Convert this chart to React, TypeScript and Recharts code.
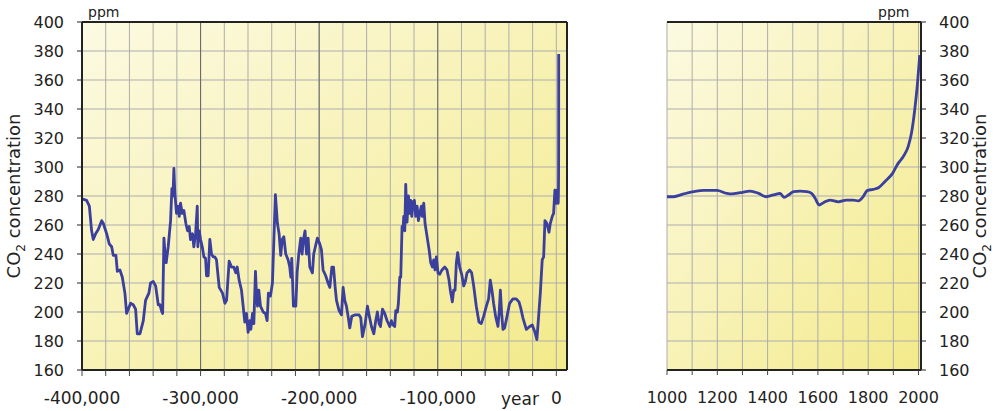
import { LineChart, Line, XAxis, YAxis, CartesianGrid, ReferenceLine } from 'recharts'

// Vostok-style ice core record, years relative to 0 AD
const iceYears = [
  -400000, -396100, -393800, -391900, -390500, -388500, -386200, -383400, -382000, -379200,
  -377000, -375000, -373600, -371400, -370200, -368000, -366000, -363800, -362400, -359000,
  -356800, -354800, -353400, -351100, -348300, -346400, -343600, -342200, -339900, -337900,
  -335700, -334300, -332600, -332000, -330900, -329800, -329000, -327300, -325300, -324200,
  -323300, -322500, -321700, -320300, -318800, -318000, -316900, -315500, -314100, -312400,
  -311000, -309600, -308500, -306800, -305700, -304200, -302800, -302300, -301200, -300000,
  -298600, -297200, -295800, -295000, -293600, -292200, -290800, -289400, -288000, -286600,
  -284300, -281500, -279500, -278100, -275900, -273900, -272000, -270300, -269100, -267500,
  -265500, -262700, -261300, -259900, -258500, -257600, -256200, -255100, -253700, -252900,
  -252000, -250900, -249500, -247200, -245300, -243900, -242800, -241100, -239400, -238300,
  -236900, -235200, -233800, -232400, -231200, -229800, -228200, -226200, -224800, -223900,
  -223100, -221700, -219700, -218600, -217200, -215500, -214400, -213300, -211900, -210700,
  -209300, -207900, -205700, -204600, -203200, -201500, -199500, -198100, -196700, -194500,
  -192500, -191000, -189300, -187900, -186500, -185400, -183200, -181200, -179800, -178400,
  -177000, -175600, -174200, -172500, -170000, -166300, -164900, -163500, -161200, -159300,
  -157900, -155900, -153900, -152300, -150900, -149500, -148300, -146600, -144700, -142700,
  -140500, -139100, -137700, -136300, -135400, -134000, -133200, -132000, -131200, -130100,
  -129200, -128700, -127800, -127000, -125900, -124700, -123600, -122800, -121900, -120800,
  -119700, -118600, -117400, -116300, -115200, -113800, -113000, -111800, -110700, -109000,
  -107300, -105900, -104500, -103400, -102300, -101200, -99800, -98400, -96400, -94100,
  -92200, -90500, -89400, -87700, -86600, -85400, -84300, -83200, -81500, -79800,
  -78100, -76700, -75300, -73100, -71400, -69700, -67500, -65200, -63300, -61300,
  -59000, -57100, -55700, -54300, -52900, -51200, -49200, -48100, -47200, -46100,
  -45000, -43600, -41600, -39400, -36600, -33800, -31500, -30100, -28200, -25300,
  -22500, -20300, -18000, -16400, -15200, -13500, -11900, -10700, -9600, -7900,
  -6200, -5100, -3400, -2300, -1200, -400, 600, 1000, 1600, 1800,
  1900, 1950, 1970, 1990, 2005,
]
const iceCo2 = [
  278, 277, 273, 256, 250, 254, 257, 263, 261, 254,
  247, 245, 239, 239, 228, 229, 224, 213, 199, 206,
  205, 202, 185, 185, 194, 208, 213, 220, 221, 218,
  205, 205, 200, 199, 251, 238, 234, 245, 263, 285,
  280, 299, 282, 268, 273, 266, 275, 268, 270, 261,
  256, 259, 250, 254, 245, 254, 273, 245, 256, 250,
  245, 238, 237, 225, 225, 250, 240, 238, 238, 236,
  217, 213, 206, 208, 235, 231, 231, 227, 231, 222,
  215, 193, 199, 186, 194, 188, 199, 192, 228, 213,
  204, 215, 204, 200, 199, 194, 213, 211, 220, 247,
  281, 261, 254, 239, 250, 252, 240, 236, 231, 224,
  237, 204, 204, 227, 240, 251, 240, 250, 256, 240,
  251, 231, 227, 240, 245, 251, 247, 243, 229, 225,
  220, 217, 231, 231, 217, 208, 201, 198, 217, 208,
  204, 197, 189, 197, 198, 198, 196, 183, 192, 204,
  198, 190, 185, 194, 200, 192, 190, 202, 199, 194,
  190, 194, 191, 190, 201, 200, 206, 224, 224, 259,
  258, 266, 256, 288, 262, 280, 268, 277, 266, 276,
  277, 266, 273, 263, 268, 273, 266, 275, 261, 252,
  243, 234, 231, 236, 229, 238, 227, 226, 229, 231,
  229, 222, 215, 207, 215, 215, 234, 241, 231, 226,
  218, 221, 227, 229, 227, 218, 204, 193, 192, 197,
  204, 209, 222, 215, 206, 197, 190, 201, 215, 199,
  188, 189, 197, 206, 209, 209, 207, 203, 196, 188,
  190, 191, 186, 181, 194, 213, 236, 238, 263, 261,
  255, 261, 266, 268, 284, 275, 284, 280, 275, 284,
  296, 312, 325, 350, 378,
]

// last millennium
const recentYears = [
  1000, 1026, 1066, 1106, 1146, 1198, 1238, 1258, 1291, 1331,
  1364, 1394, 1423, 1450, 1466, 1483, 1503, 1529, 1556, 1575,
  1589, 1605, 1622, 1648, 1681, 1714, 1741, 1761, 1780, 1796,
  1820, 1841, 1866, 1897, 1919, 1939, 1959, 1972, 1985, 1996, 2005,
]
const recentCo2 = [
  279.5, 279.5, 281.4, 283, 283.9, 283.9, 281.8, 281.4, 282.3, 283.4,
  281.8, 279.5, 280.7, 281.8, 279, 280.7, 283, 283.4, 283, 281.8,
  278.4, 273.8, 275.4, 277.2, 276, 277.2, 277.2, 276.6, 279.5, 283.7,
  284.6, 285.7, 289.9, 295.6, 302.5, 307.1, 314, 323.2, 339.3, 357.7, 377.2,
]

const ppmTicks = [160, 180, 200, 220, 240, 260, 280, 300, 320, 340, 360, 380, 400]
const iceTicks = [
  -400000, -380000, -360000, -340000, -320000, -300000, -280000, -260000, -240000, -220000,
  -200000, -180000, -160000, -140000, -120000, -100000, -80000, -60000, -40000, -20000, 0,
]
const iceMajor = [-300000, -200000, -100000]
const recentTicks = [1000, 1100, 1200, 1300, 1400, 1500, 1600, 1700, 1800, 1900, 2000]

const iceData = iceYears.map((year, i) => ({ year, co2: iceCo2[i] }))
const recentData = recentYears.map((year, i) => ({ year, co2: recentCo2[i] }))

const FONT = '"DejaVu Sans", Verdana, sans-serif'
const INK = '#222'
const GRID = '#adadad'
const LINE = '#3b3f9e'

function Co2Title({ x, y }: { x: number; y: number }) {
  return (
    <text transform={`translate(${x},${y}) rotate(-90)`} textAnchor="middle" fontSize={18} fill={INK} fontFamily={FONT}>
      <tspan>CO</tspan>
      <tspan dy={5} fontSize={12}>2</tspan>
      <tspan dy={-5}> concentration</tspan>
    </text>
  )
}

function Background({ id }: { id: string }) {
  return (
    <defs>
      <linearGradient id={id} x1="0" y1="0" x2="1" y2="1">
        <stop offset="0%" stopColor="#fcfae2" />
        <stop offset="100%" stopColor="#f3ea8a" />
      </linearGradient>
    </defs>
  )
}

export default function App() {
  return (
    <div style={{ position: 'fixed', left: 0, top: 0, width: 998, height: 411, background: '#fff', fontFamily: FONT }}>
      <div style={{ position: 'absolute', left: 0, top: 0 }}>
        <LineChart width={600} height={411} data={iceData} margin={{ top: 22, right: 33, bottom: 0, left: 0 }}>
          <Background id="bgIce" />
          <CartesianGrid stroke={GRID} fill="url(#bgIce)" fillOpacity={1} />
          {iceMajor.map(x => (
            <ReferenceLine key={x} x={x} stroke="#666" strokeWidth={1} />
          ))}
          <ReferenceLine y={400} stroke={INK} strokeWidth={2} />
          <ReferenceLine x={9000} stroke={INK} strokeWidth={2} />
          <XAxis
            type="number"
            dataKey="year"
            domain={[-400000, 9000]}
            ticks={iceTicks}
            interval={0}
            height={41}
            tickSize={6}
            tickMargin={16}
            axisLine={{ stroke: INK, strokeWidth: 2 }}
            tickLine={{ stroke: '#444' }}
            tick={{ fill: INK, fontSize: 17, fontFamily: FONT }}
            tickFormatter={(v: number) => (v % 100000 === 0 ? v.toLocaleString('en-US') : '')}
          />
          <YAxis
            type="number"
            domain={[160, 400]}
            ticks={ppmTicks}
            interval={0}
            width={82}
            tickSize={5}
            tickMargin={13}
            axisLine={{ stroke: INK, strokeWidth: 2 }}
            tickLine={{ stroke: INK }}
            tick={{ fill: INK, fontSize: 16, fontFamily: FONT }}
          />
          <Line
            type="linear"
            dataKey="co2"
            stroke={LINE}
            strokeWidth={2.8}
            strokeLinejoin="round"
            dot={false}
            isAnimationActive={false}
          />
        </LineChart>
      </div>

      <div style={{ position: 'absolute', left: 640, top: 0 }}>
        <LineChart width={358} height={411} data={recentData} margin={{ top: 22, right: 0, bottom: 0, left: 27 }}>
          <Background id="bgRecent" />
          <CartesianGrid stroke={GRID} fill="url(#bgRecent)" fillOpacity={1} />
          <ReferenceLine y={400} stroke={INK} strokeWidth={2} />
          <XAxis
            type="number"
            dataKey="year"
            domain={[1000, 2010]}
            ticks={recentTicks}
            interval={0}
            height={41}
            tickSize={5}
            tickMargin={17}
            axisLine={{ stroke: INK, strokeWidth: 2 }}
            tickLine={{ stroke: '#444' }}
            tick={{ fill: INK, fontSize: 16, fontFamily: FONT }}
            tickFormatter={(v: number) => (v % 200 === 0 ? String(v) : '')}
          />
          <YAxis
            orientation="right"
            type="number"
            domain={[160, 400]}
            ticks={ppmTicks}
            interval={0}
            width={77}
            tickSize={5}
            tickMargin={13}
            axisLine={{ stroke: INK, strokeWidth: 2 }}
            tickLine={{ stroke: INK }}
            tick={{ fill: INK, fontSize: 16, fontFamily: FONT }}
          />
          <Line
            type="monotone"
            dataKey="co2"
            stroke={LINE}
            strokeWidth={2.8}
            dot={false}
            isAnimationActive={false}
          />
        </LineChart>
      </div>

      <svg width={998} height={411} style={{ position: 'absolute', left: 0, top: 0, pointerEvents: 'none' }}>
        <Co2Title x={20} y={196} />
        <Co2Title x={986} y={196} />
        <text x={88} y={17} fontSize={14} fill={INK} fontFamily={FONT}>ppm</text>
        <text x={878} y={17} fontSize={14} fill={INK} fontFamily={FONT}>ppm</text>
        <text x={520} y={405} fontSize={17} fill={INK} fontFamily={FONT} textAnchor="middle">year</text>
      </svg>
    </div>
  )
}
